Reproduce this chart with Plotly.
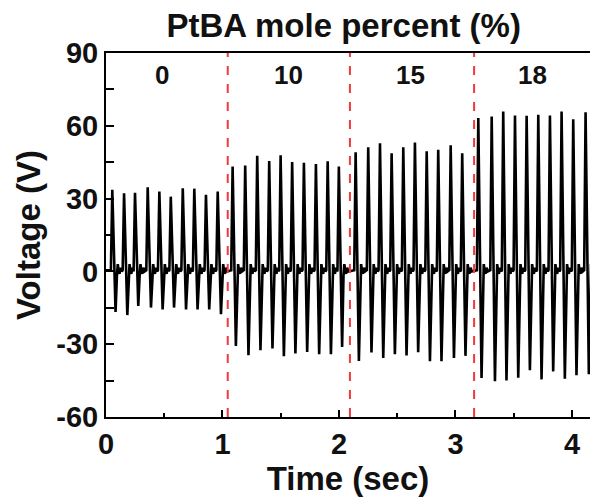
import plotly.graph_objects as go

# ---- data ----
segment_labels = ["0", "10", "15", "18"]
segment_label_times = [0.48, 1.57, 2.61, 3.66]
divider_times = [1.045, 2.094, 3.16]

peak_times = [
    0.054, 0.155, 0.249, 0.358, 0.458, 0.556, 0.659, 0.758, 0.858, 0.959,
    1.087, 1.195, 1.298, 1.401, 1.499, 1.598, 1.699, 1.802, 1.903, 1.999,
    2.143, 2.251, 2.352, 2.452, 2.552, 2.652, 2.753, 2.852, 2.959, 3.058,
    3.196, 3.311, 3.410, 3.511, 3.611, 3.711, 3.811, 3.911, 4.011, 4.117,
]
pos_peaks = [
    33.6, 32.2, 32.4, 34.7, 32.9, 30.8, 34.3, 34.1, 31.6, 32.9,
    43.2, 43.6, 47.7, 45.5, 47.9, 45.1, 44.8, 44.3, 45.4, 43.2,
    49.1, 51.2, 52.8, 48.7, 51.2, 53.1, 49.5, 50.1, 52.0, 48.7,
    63.2, 63.8, 65.9, 64.2, 64.1, 64.5, 64.2, 65.9, 62.7, 65.6,
]
neg_peaks = [
    -16.7, -18.0, -14.2, -14.9, -15.7, -14.9, -15.7, -15.7, -15.7, -17.6,
    -30.7, -34.5, -32.5, -31.8, -35.0, -33.8, -33.2, -34.1, -34.1, -31.1,
    -36.9, -33.4, -35.7, -34.1, -34.6, -33.3, -37.0, -37.0, -35.7, -34.8,
    -43.9, -45.3, -44.9, -43.8, -40.7, -44.5, -41.2, -44.2, -42.8, -42.4,
]
# small ripple that follows each spike (offset in s after the peak, volts)
ripple_offsets = [0.040, 0.047, 0.054, 0.062, 0.072, 0.082]
ripple_values = [-1.5, 3.0, 0.5, -1.0, 1.5, 0.0]
lead_offset = 0.012
lead_value = 0.5

x_ticks = [0, 1, 2, 3, 4]
y_ticks = [-60, -30, 0, 30, 60, 90]

# ---- build the trace vertices from the read values ----
ts, vs = [0.0], [0.5]
for tp, vp, vn in zip(peak_times, pos_peaks, neg_peaks):
    ts += [tp - lead_offset, tp, tp + 0.028]
    vs += [lead_value, vp, vn]
    ts += [tp + o for o in ripple_offsets]
    vs += ripple_values
ts.append(4.16)
vs.append(0.5)

fig = go.Figure()
fig.add_trace(go.Scatter(x=ts, y=vs, mode="lines",
                         line=dict(color="black", width=2.6),
                         hoverinfo="skip", showlegend=False))

for d in divider_times:
    fig.add_shape(type="line", x0=d, x1=d, y0=-60, y1=90, xref="x", yref="y",
                  line=dict(color="#f03a3a", width=2, dash="dash"))

for lab, t in zip(segment_labels, segment_label_times):
    fig.add_annotation(x=t, y=81, text=f"<b>{lab}</b>", showarrow=False,
                       font=dict(size=26, color="#111"), xref="x", yref="y")

font_family = "Liberation Sans, Arial, sans-serif"
fig.update_layout(
    width=590, height=501,
    margin=dict(l=106, r=0, t=53, b=84),
    paper_bgcolor="white", plot_bgcolor="white",
    font=dict(family=font_family, color="#111"),
    title=dict(text="<b>PtBA mole percent (%)</b>", x=0.491, xref="paper",
               xanchor="center", y=0.95, yanchor="middle",
               font=dict(size=33, color="#111")),
    xaxis=dict(range=[0, 4.155], tickvals=x_ticks,
               ticktext=[f"<b>{v}</b>" for v in x_ticks],
               ticks="inside", ticklen=7, tickwidth=2, tickcolor="black",
               minor=dict(dtick=0.5, ticks="inside", ticklen=4, tickwidth=2,
                          tickcolor="black"),
               showline=True, linewidth=2, linecolor="black", mirror=True,
               showgrid=False, zeroline=False,
               tickfont=dict(size=29, color="#111"),
               title=dict(text="<b>Time (sec)</b>", standoff=5,
                          font=dict(size=33, color="#111"))),
    yaxis=dict(range=[-60, 90], tickvals=y_ticks,
               ticktext=[f"<b>{v}</b>" for v in y_ticks],
               ticks="inside", ticklen=8, tickwidth=2, tickcolor="black",
               minor=dict(dtick=15, ticks="inside", ticklen=8, tickwidth=2,
                          tickcolor="black"),
               showline=True, linewidth=2, linecolor="black",
               showgrid=False, zeroline=False,
               tickfont=dict(size=29, color="#111"),
               title=dict(text="<b>Voltage (V)</b>", standoff=6,
                          font=dict(size=33, color="#111"))),
)

fig.write_html("out.html")
